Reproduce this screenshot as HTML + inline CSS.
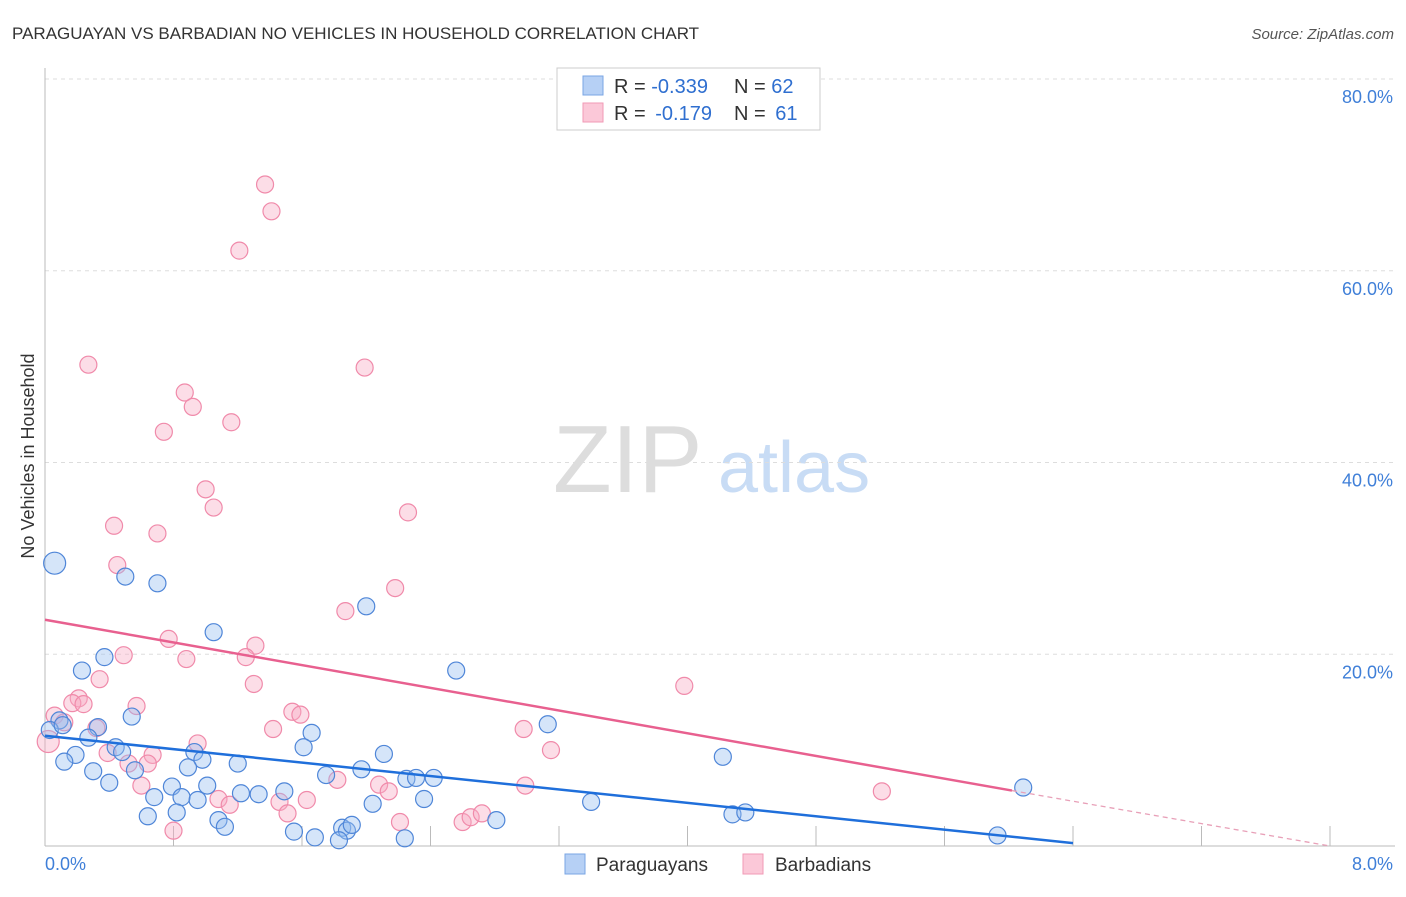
<!DOCTYPE html>
<html><head><meta charset="utf-8"><style>
body{margin:0;background:#fff;font-family:"Liberation Sans",sans-serif}
svg text{font-family:"Liberation Sans",sans-serif}
</style></head><body>
<svg id="c" width="1406" height="892">
<text x="12" y="39" font-size="17" fill="#333">PARAGUAYAN VS BARBADIAN NO VEHICLES IN HOUSEHOLD CORRELATION CHART</text>
<text x="1394" y="39" font-size="15" fill="#555" font-style="italic" text-anchor="end">Source: ZipAtlas.com</text>
<text x="34" y="456" font-size="18" fill="#333" text-anchor="middle" transform="rotate(-90 34 456)">No Vehicles in Household</text>
<g><text x="553" y="492" font-size="96" fill="#ddd" font-family="Liberation Serif, serif">ZIP</text><text x="718" y="492" font-size="72" fill="#c8dcf5">atlas</text></g>
<g id="grid"></g><g id="pts"></g><g id="lines"></g>
<g>
<rect x="557" y="68" width="263" height="62" fill="#fff" stroke="#ccc"/>
<rect x="583" y="76" width="20" height="19" fill="#b6d0f5" stroke="#7aa6e4"/>
<rect x="583" y="103" width="20" height="19" fill="#fbc8d8" stroke="#f09ab6"/>
<text x="614" y="93" font-size="20" fill="#333">R = <tspan fill="#2f6fd0">-0.339</tspan><tspan x="734">N = </tspan><tspan fill="#2f6fd0">62</tspan></text>
<text x="614" y="120" font-size="20" fill="#333">R = <tspan fill="#2f6fd0" dx="4">-0.179</tspan><tspan x="734">N = </tspan><tspan fill="#2f6fd0" dx="4">61</tspan></text>
</g>
<g>
<rect x="565" y="854" width="20" height="20" fill="#b6d0f5" stroke="#7aa6e4"/>
<text x="596" y="871" font-size="19" fill="#333">Paraguayans</text>
<rect x="743" y="854" width="20" height="20" fill="#fbc8d8" stroke="#f09ab6"/>
<text x="775" y="871" font-size="19" fill="#333">Barbadians</text>
</g>
</svg>
<script>
const yTicks=[80,60,40,20];
const xTickLabels=["0.0%","8.0%"];
const blueX=[0.06,0.50,0.70,2.00,1.05,0.37,0.23,2.56,0.54,0.33,0.09,0.03,0.27,1.66,3.13,1.61,0.44,0.19,0.93,0.48,2.11,0.12,0.98,4.22,0.30,0.56,0.89,1.20,1.75,1.97,2.25,2.31,2.42,0.40,0.79,1.01,6.09,0.68,0.85,0.95,1.22,1.33,1.49,2.04,2.36,3.40,0.64,0.82,1.08,1.12,2.81,4.28,4.36,1.55,1.68,1.85,1.88,1.91,2.24,1.83,5.93,0.11];
const blueY=[29.5,28.1,27.4,25.0,22.3,19.7,18.3,18.3,13.5,12.4,13.1,12.1,11.3,11.8,12.7,10.3,10.3,9.5,9.8,9.8,9.6,8.8,9.0,9.3,7.8,7.9,8.2,8.6,7.4,8.0,7.0,7.1,7.1,6.6,6.2,6.3,6.1,5.1,5.1,4.8,5.5,5.4,5.7,4.4,4.9,4.6,3.1,3.5,2.7,2.0,2.7,3.3,3.5,1.5,0.9,1.9,1.6,2.2,0.8,0.6,1.1,12.6];
const pinkX=[1.37,1.41,1.21,0.27,1.99,0.87,0.92,1.16,0.74,1.00,1.05,2.26,0.43,0.70,0.45,2.18,1.87,0.77,1.31,0.49,1.25,0.88,0.34,1.30,3.98,0.21,0.17,0.24,0.57,0.06,1.54,1.59,0.12,0.32,1.42,2.98,0.02,0.95,3.15,0.39,0.67,0.64,0.52,1.82,2.08,0.60,2.14,5.21,2.99,1.08,1.15,1.46,1.63,1.51,2.21,2.60,2.65,2.72,0.80];
const pinkY=[69.0,66.2,62.1,50.2,49.9,47.3,45.8,44.2,43.2,37.2,35.3,34.8,33.4,32.6,29.3,26.9,24.5,21.6,20.9,19.9,19.7,19.5,17.4,16.9,16.7,15.4,14.9,14.8,14.6,13.6,14.0,13.7,12.9,12.3,12.2,12.2,10.9,10.7,10.0,9.7,9.5,8.6,8.6,6.9,6.4,6.3,5.7,5.7,6.3,4.9,4.3,4.6,4.8,3.4,2.5,2.5,3.0,3.4,1.6];
const blueTrend=[11.5,-1.75], pinkTrend=[23.6,-2.96];
const X0=45,X1=1330,Y0=846,Y80=79;
const sx=v=>X0+v/8*(X1-X0), sy=v=>Y0-v/80*(Y0-Y80);
const NS='http://www.w3.org/2000/svg';
function mk(t,a,p){const e=document.createElementNS(NS,t);for(const k in a)e.setAttribute(k,a[k]);p.appendChild(e);return e;}
const g=document.getElementById('grid');
yTicks.forEach(t=>{
 const l=mk('line',{x1:45,x2:1395,y1:sy(t),y2:sy(t),stroke:'#ddd','stroke-dasharray':'4,4'},g);
 
 
 const tx=mk('text',{x:1393,y:sy(t)+24,'font-size':18,fill:'#3f7fd8','text-anchor':'end'},g);
 tx.textContent=t.toFixed(1)+'%';
 
 
});
const ax=mk('line',{x1:45,x2:45,y1:68,y2:846,stroke:'#bbb'},g);


const bx=mk('line',{x1:45,x2:1395,y1:846,y2:846,stroke:'#bbb'},g);


for(let i=1;i<=10;i++){const v=i*0.8;const t=mk('line',{x1:sx(v),x2:sx(v),y1:826,y2:846,stroke:'#bbb'},g);
 
 }
xTickLabels.forEach((s,i)=>{const t=mk('text',{x:i?1393:45,y:870,'font-size':18,fill:'#3f7fd8','text-anchor':i?'end':'start'},g);t.textContent=s;
 
 });
const P=document.getElementById('pts');
function dots(xs,ys,fill,st,name){xs.forEach((x,i)=>{const big=(x<0.1&&(ys[i]>25||ys[i]<11.5));
 const c=mk('circle',{cx:sx(x),cy:sy(ys[i]),r:big?11:8.5,fill:fill,stroke:st,'stroke-width':1.2},P);
 
 });}
dots(pinkX,pinkY,'rgba(247,170,195,0.4)','#f08aaa','barbadian-point');
dots(blueX,blueY,'rgba(150,190,240,0.4)','#4f86d8','paraguayan-point');
const L=document.getElementById('lines');
const bl=mk('line',{x1:sx(0),y1:sy(blueTrend[0]),x2:sx(6.4),y2:sy(blueTrend[0]+blueTrend[1]*6.4),stroke:'#1f6fdb','stroke-width':2.5},L);


const pl=mk('line',{x1:sx(0),y1:sy(pinkTrend[0]),x2:sx(6.02),y2:sy(pinkTrend[0]+pinkTrend[1]*6.02),stroke:'#e8608f','stroke-width':2.5},L);


const pd=mk('line',{x1:sx(6.02),y1:sy(pinkTrend[0]+pinkTrend[1]*6.02),x2:sx(8),y2:sy(Math.max(0,pinkTrend[0]+pinkTrend[1]*8)),stroke:'#e8a0b8','stroke-width':1.3,'stroke-dasharray':'5,4'},L);


</script>
</body></html>
